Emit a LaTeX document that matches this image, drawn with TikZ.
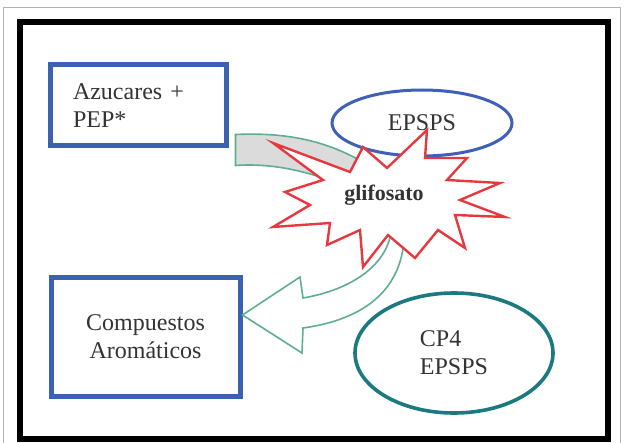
\documentclass[tikz,border=0pt]{standalone}
\usepackage{fontspec}
\setmainfont{Liberation Serif}
\usepackage{tikz}
\usetikzlibrary{positioning,shapes.geometric,calc}
\definecolor{boxblue}{HTML}{3A62B0}
\definecolor{ellblue}{HTML}{3F5FB8}
\definecolor{cpteal}{HTML}{1B7A80}
\definecolor{burstred}{HTML}{E5393F}
\definecolor{arrgreen}{HTML}{5FAE8F}
\definecolor{txtgray}{HTML}{333333}
\tikzset{
  block/.style={rectangle,draw=boxblue,line width=2.5pt,fill=white,inner sep=0pt,
                font=\fontsize{12}{14}\selectfont,text=txtgray},
  enzyme/.style={ellipse,draw=ellblue,line width=1.5pt,fill=white,inner sep=0pt,
                 font=\fontsize{12}{14}\selectfont,text=txtgray},
  tenzyme/.style={enzyme,draw=cpteal,line width=1.8pt,align=left},
  burst/.style={draw=burstred,line width=1.2pt,fill=white,line join=miter},
  blabel/.style={font=\fontsize{11}{13}\selectfont\bfseries,text=txtgray},
  fillarrow/.style={draw=arrgreen,line width=0.8pt,fill=gray!28},
  flowarrow/.style={draw=arrgreen,line width=0.8pt,fill=white},
}
\begin{document}
\begin{tikzpicture}[x=0.5pt,y=-0.5pt]
  \useasboundingbox (0,0) rectangle (625,443);
  \draw[gray!60,line width=0.5pt] (3,443) |- (620,8) -- (620,443);
  \draw[black,line width=3.2pt] (20,22) rectangle (608,439);

  \node[block,minimum width=88pt,minimum height=40.5pt,text width=65pt,align=left]
    (azucar) at (138,105.5) {Azucares +\\PEP*};
  \node[block,minimum width=94.5pt,minimum height=59.5pt,align=center]
    (aromat) at (145.5,337) {Compuestos\\Aromáticos};
  \node[enzyme,minimum width=90pt,minimum height=33pt] (epsps) at (422,123) {EPSPS};
  \node[tenzyme,minimum width=99pt,minimum height=60pt] (cpfour) at (454,353) {CP4\\EPSPS};

  % arrows run under the burst
  \draw[fillarrow] ($(azucar.south east)+(7,-14)$) .. controls (290,132) and (330,142) .. (368,165)
    -- (352,190) .. controls (310,170) and (270,163) .. ($(azucar.south east)+(7,17)$) -- cycle;
  \draw[flowarrow] (392,222) .. controls (392,265) and (350,290) .. (303,298) -- (300,277)
    -- (aromat.east |- 0,315) -- (302,353) -- (303,328)
    .. controls (375,318) and (408,280) .. (404,222) -- cycle;

  \coordinate (burst) at (384,200);
  \draw[burst,shift={(burst)}] (43,-70) -- (41,-42) -- (83,-42) -- (63,-20) -- (116,-17)
    -- (76,0) -- (121,17) -- (71,15) -- (81,48) -- (54,30) -- (31,58) -- (4,35)
    -- (-21,67) -- (-24,30) -- (-57,45) -- (-54,23) -- (-111,27) -- (-74,5)
    -- (-99,-8) -- (-61,-20) -- (-111,-57) -- (-34,-28) -- (-21,-53) -- (3,-32) -- cycle;
  \node[blabel] (glifo) at ($(burst)+(0,-5)$) {glifosato};
\end{tikzpicture}
\end{document}
